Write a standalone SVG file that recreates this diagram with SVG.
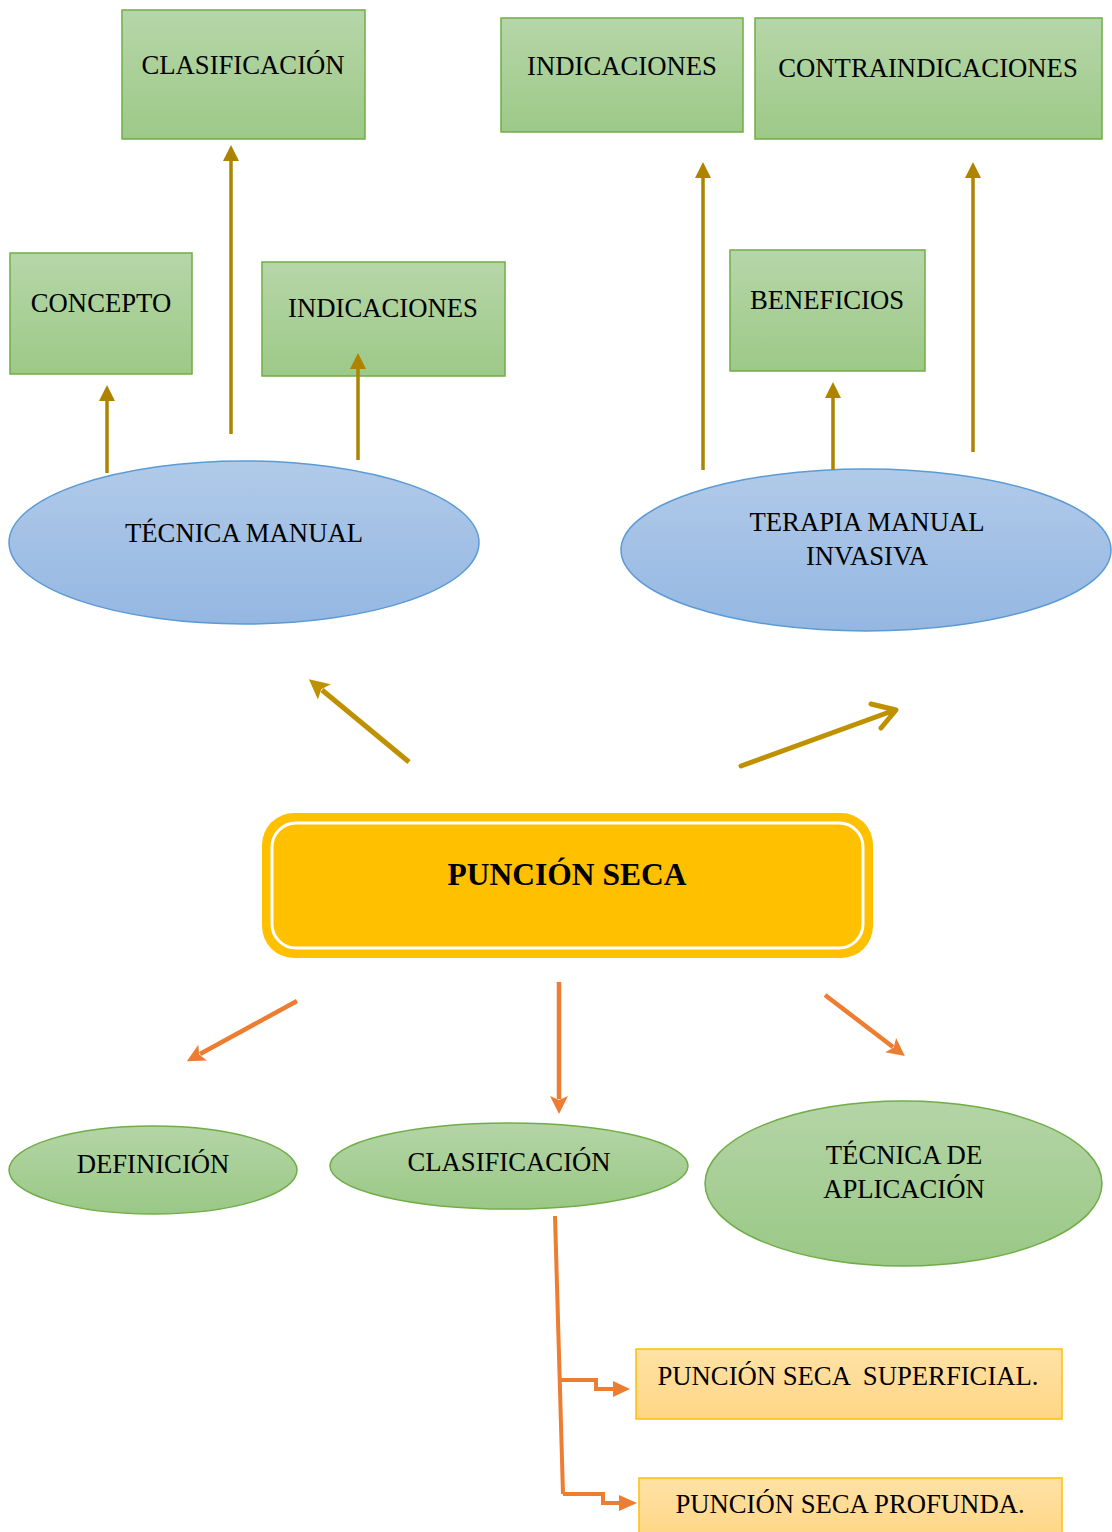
<svg xmlns="http://www.w3.org/2000/svg" width="1112" height="1532" viewBox="0 0 1112 1532">
<style>
text{font-family:"Liberation Serif","Times New Roman",serif;font-size:26.7px;fill:#000;text-anchor:middle;white-space:pre}
.gbox{fill:url(#gG);stroke:#70AD47;stroke-width:1.5}
.bell{fill:url(#gB);stroke:#5B9BD5;stroke-width:1.5}
.gell{fill:url(#gG2);stroke:#70AD47;stroke-width:1.5}
.obox{fill:url(#gO);stroke:#FFC000;stroke-width:1.5}
.gold{stroke:#AE8300;stroke-width:3.5;fill:none}
.gold2{stroke:#BF9000;stroke-width:5;fill:none}
.org{stroke:#ED7D31;stroke-width:4.5;fill:none}
.orgb{stroke:#ED7D31;stroke-width:4;fill:none}
</style>
<defs>
<linearGradient id="gG" x1="0" y1="0" x2="0" y2="1"><stop offset="0" stop-color="#B6D6A8"/><stop offset="1" stop-color="#9DC988"/></linearGradient>
<linearGradient id="gG2" x1="0" y1="0" x2="0" y2="1"><stop offset="0" stop-color="#B4D5A6"/><stop offset="1" stop-color="#9AC886"/></linearGradient>
<linearGradient id="gB" x1="0" y1="0" x2="0" y2="1"><stop offset="0" stop-color="#B1CAE9"/><stop offset="1" stop-color="#94B7E2"/></linearGradient>
<linearGradient id="gO" x1="0" y1="0" x2="0" y2="1"><stop offset="0" stop-color="#FFE2A6"/><stop offset="1" stop-color="#FFD685"/></linearGradient>
<marker id="mGold" markerUnits="userSpaceOnUse" markerWidth="16" markerHeight="16" viewBox="0 0 16 16" refX="1" refY="8" orient="auto" overflow="visible"><path d="M0,0 L16,8 L0,16 Z" fill="#AE8300"/></marker>
<marker id="mGold2" markerUnits="userSpaceOnUse" markerWidth="20" markerHeight="20" viewBox="0 0 20 20" refX="3" refY="10" orient="auto" overflow="visible"><path d="M0,0 L20,10 L0,20 L4,10 Z" fill="#BF9000"/></marker>
<marker id="mOrg" markerUnits="userSpaceOnUse" markerWidth="18" markerHeight="18" viewBox="0 0 18 18" refX="3" refY="9" orient="auto" overflow="visible"><path d="M0,0 L18,9 L0,18 L4,9 Z" fill="#ED7D31"/></marker>
</defs>

<g id="n-clasificacion-top"><rect class="gbox" x="122" y="10" width="243" height="129"/><text x="243" y="74">CLASIFICACIÓN</text></g>
<g id="n-indicaciones-top"><rect class="gbox" x="501" y="18" width="242" height="114"/><text x="622" y="75">INDICACIONES</text></g>
<g id="n-contraindicaciones"><rect class="gbox" x="755" y="18" width="347" height="121"/><text x="928" y="77">CONTRAINDICACIONES</text></g>
<g id="n-concepto"><rect class="gbox" x="10" y="253" width="182" height="121"/><text x="101" y="312">CONCEPTO</text></g>
<g id="n-indicaciones-left"><rect class="gbox" x="262" y="262" width="243" height="114"/><text x="383" y="317">INDICACIONES</text></g>
<g id="n-beneficios"><rect class="gbox" x="730" y="250" width="195" height="121"/><text x="827" y="309">BENEFICIOS</text></g>

<g id="n-tecnica-manual"><ellipse class="bell" cx="244" cy="542.5" rx="235" ry="81.5"/><text x="244" y="542">TÉCNICA MANUAL</text></g>
<g id="n-terapia"><ellipse class="bell" cx="866" cy="550" rx="245" ry="81"/><text x="867" y="531">TERAPIA MANUAL</text><text x="867" y="565">INVASIVA</text></g>

<g id="n-puncion-seca">
<rect x="262" y="813" width="611" height="145" rx="32" fill="#FFC000"/>
<rect x="272" y="823" width="591" height="125" rx="24" fill="none" stroke="#FFFFFF" stroke-width="3"/>
<text x="567" y="885" style="font-weight:bold;font-size:31.5px">PUNCIÓN SECA</text>
</g>

<g id="n-definicion"><ellipse class="gell" cx="153" cy="1170" rx="144" ry="44"/><text x="153" y="1173">DEFINICIÓN</text></g>
<g id="n-clasificacion-bottom"><ellipse class="gell" cx="509" cy="1166" rx="179" ry="43"/><text x="509" y="1171">CLASIFICACIÓN</text></g>
<g id="n-tecnica-aplicacion"><ellipse class="gell" cx="903.5" cy="1183.5" rx="198.5" ry="82.5"/><text x="904" y="1164">TÉCNICA DE</text><text x="904" y="1198">APLICACIÓN</text></g>

<g id="n-superficial"><rect class="obox" x="636" y="1349" width="426" height="70"/><text x="848" y="1385">PUNCIÓN SECA  SUPERFICIAL.</text></g>
<g id="n-profunda"><rect class="obox" x="639" y="1478" width="423" height="60"/><text x="850" y="1513">PUNCIÓN SECA PROFUNDA.</text></g>

<g id="connectors">
<line class="gold" x1="107" y1="473" x2="107" y2="400" marker-end="url(#mGold)"/>
<line class="gold" x1="231" y1="434" x2="231" y2="160" marker-end="url(#mGold)"/>
<line class="gold" x1="358" y1="460" x2="358" y2="368" marker-end="url(#mGold)"/>
<line class="gold" x1="703" y1="470" x2="703" y2="177" marker-end="url(#mGold)"/>
<line class="gold" x1="833" y1="470" x2="833" y2="397" marker-end="url(#mGold)"/>
<line class="gold" x1="973" y1="452" x2="973" y2="177" marker-end="url(#mGold)"/>
<line class="gold2" x1="409" y1="762" x2="322" y2="690" marker-end="url(#mGold2)"/>
<path class="gold2" d="M741,766 L895,710 M871,704 L896,710 L881,728" stroke-linecap="round" stroke-linejoin="round"/>
<line class="org" x1="297" y1="1001" x2="200" y2="1054" marker-end="url(#mOrg)"/>
<line class="org" x1="559" y1="982" x2="559" y2="1099" marker-end="url(#mOrg)"/>
<line class="org" x1="825" y1="995" x2="893" y2="1047" marker-end="url(#mOrg)"/>
<path class="orgb" d="M555,1216 L563,1494"/>
<path class="orgb" d="M561,1380 L596,1380 L596,1389 L614,1389"/>
<path d="M613,1381 L630,1389 L613,1397 Z" fill="#ED7D31"/>
<path class="orgb" d="M563,1494 L603,1494 L603,1503 L620,1503"/>
<path d="M619,1495 L637,1503 L619,1511 Z" fill="#ED7D31"/>
</g>
</svg>
